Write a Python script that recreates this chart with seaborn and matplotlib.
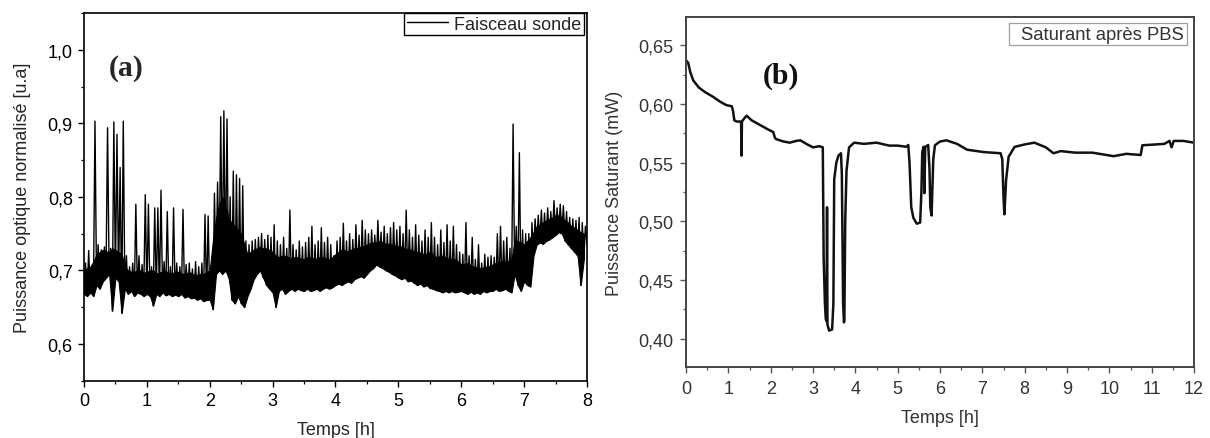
import numpy as np
import pandas as pd
import matplotlib
matplotlib.use("Agg")
import matplotlib.pyplot as plt
from matplotlib.ticker import MultipleLocator, FuncFormatter
import seaborn as sns

# ---------------- data: panel (a) ----------------
# low / high excursions of the noisy probe signal, every 0.05 h (lo at t, hi at t+0.025)
lo_a = [0.668, 0.665, 0.670, 0.665, 0.680, 0.675, 0.685, 0.690, 0.695, 0.645,
        0.690, 0.685, 0.642, 0.675, 0.668, 0.672, 0.665, 0.670, 0.668, 0.665,
        0.668, 0.665, 0.652, 0.668, 0.665, 0.670, 0.666, 0.668, 0.665, 0.667,
        0.665, 0.668, 0.663, 0.665, 0.662, 0.663, 0.660, 0.662, 0.658, 0.660,
        0.660, 0.647, 0.695, 0.700, 0.695, 0.700, 0.690, 0.660, 0.655, 0.665,
        0.655, 0.650, 0.665, 0.675, 0.688, 0.695, 0.700, 0.690, 0.680, 0.675,
        0.670, 0.650, 0.672, 0.675, 0.668, 0.672, 0.675, 0.672, 0.675, 0.673,
        0.672, 0.675, 0.672, 0.673, 0.675, 0.672, 0.675, 0.677, 0.675, 0.677,
        0.680, 0.682, 0.680, 0.683, 0.685, 0.683, 0.688, 0.690, 0.692, 0.690,
        0.695, 0.700, 0.703, 0.708, 0.705, 0.703, 0.700, 0.698, 0.695, 0.693,
        0.690, 0.688, 0.690, 0.685, 0.686, 0.683, 0.680, 0.682, 0.678, 0.680,
        0.676, 0.675, 0.673, 0.672, 0.670, 0.672, 0.670, 0.672, 0.670, 0.671,
        0.672, 0.670, 0.668, 0.671, 0.668, 0.670, 0.668, 0.672, 0.670, 0.672,
        0.672, 0.675, 0.672, 0.673, 0.675, 0.672, 0.670, 0.695, 0.680, 0.672,
        0.685, 0.680, 0.678, 0.720, 0.735, 0.738, 0.736, 0.740, 0.742, 0.745,
        0.748, 0.752, 0.750, 0.740, 0.735, 0.730, 0.725, 0.720, 0.680, 0.715]
hi_a = [0.710, 0.727, 0.705, 0.903, 0.735, 0.728, 0.732, 0.894, 0.730, 0.902,
        0.885, 0.840, 0.903, 0.720, 0.705, 0.710, 0.790, 0.720, 0.708, 0.803,
        0.790, 0.705, 0.785, 0.785, 0.809, 0.712, 0.780, 0.705, 0.785, 0.710,
        0.705, 0.783, 0.708, 0.710, 0.702, 0.712, 0.705, 0.710, 0.776, 0.774,
        0.700, 0.805, 0.820, 0.909, 0.917, 0.906, 0.800, 0.835, 0.830, 0.825,
        0.815, 0.740, 0.735, 0.740, 0.742, 0.745, 0.750, 0.742, 0.748, 0.745,
        0.762, 0.740, 0.735, 0.745, 0.730, 0.782, 0.735, 0.728, 0.740, 0.732,
        0.738, 0.745, 0.760, 0.735, 0.740, 0.758, 0.738, 0.745, 0.735, 0.720,
        0.740, 0.745, 0.764, 0.740, 0.750, 0.742, 0.762, 0.748, 0.768, 0.755,
        0.750, 0.755, 0.748, 0.768, 0.752, 0.760, 0.750, 0.758, 0.765, 0.755,
        0.760, 0.750, 0.782, 0.755, 0.745, 0.762, 0.748, 0.740, 0.755, 0.745,
        0.765, 0.745, 0.735, 0.755, 0.738, 0.762, 0.740, 0.760, 0.735, 0.725,
        0.722, 0.765, 0.720, 0.745, 0.715, 0.735, 0.710, 0.722, 0.718, 0.720,
        0.718, 0.750, 0.760, 0.740, 0.745, 0.730, 0.899, 0.760, 0.860, 0.755,
        0.750, 0.750, 0.765, 0.770, 0.775, 0.782, 0.778, 0.785, 0.780, 0.795,
        0.785, 0.790, 0.788, 0.780, 0.772, 0.770, 0.768, 0.772, 0.765, 0.760]
# top of the dense (solid-looking) core of the trace, same 0.05 h grid as lo_a
core_a = [0.700, 0.703, 0.705, 0.712, 0.722, 0.725, 0.728, 0.726, 0.725, 0.730,
          0.728, 0.725, 0.722, 0.705, 0.700, 0.698, 0.698, 0.700, 0.700, 0.697,
          0.698, 0.700, 0.700, 0.696, 0.697, 0.699, 0.699, 0.697, 0.696, 0.698,
          0.698, 0.696, 0.695, 0.697, 0.697, 0.694, 0.694, 0.695, 0.695, 0.698,
          0.700, 0.740, 0.770, 0.790, 0.800, 0.790, 0.770, 0.765, 0.760, 0.755,
          0.750, 0.735, 0.722, 0.725, 0.728, 0.730, 0.732, 0.730, 0.730, 0.728,
          0.725, 0.720, 0.718, 0.720, 0.720, 0.718, 0.716, 0.718, 0.718, 0.716,
          0.715, 0.718, 0.718, 0.716, 0.716, 0.718, 0.718, 0.716, 0.715, 0.718,
          0.722, 0.725, 0.728, 0.727, 0.726, 0.728, 0.730, 0.731, 0.732, 0.733,
          0.735, 0.737, 0.738, 0.739, 0.740, 0.738, 0.736, 0.736, 0.735, 0.734,
          0.733, 0.732, 0.730, 0.729, 0.728, 0.726, 0.725, 0.724, 0.722, 0.723,
          0.725, 0.722, 0.718, 0.719, 0.720, 0.718, 0.716, 0.716, 0.715, 0.712,
          0.708, 0.709, 0.710, 0.707, 0.705, 0.704, 0.703, 0.704, 0.705, 0.706,
          0.708, 0.710, 0.712, 0.712, 0.712, 0.713, 0.715, 0.740, 0.740, 0.738,
          0.735, 0.740, 0.745, 0.752, 0.760, 0.762, 0.765, 0.768, 0.770, 0.772,
          0.775, 0.775, 0.772, 0.768, 0.765, 0.760, 0.758, 0.755, 0.752, 0.750]
end_a = 0.735
label_a = "Faisceau sonde"

# ---------------- data: panel (b) ----------------
t_b = [0, 0.05, 0.10, 0.17, 0.30, 0.45, 0.64, 0.80, 0.95, 1.08, 1.11, 1.14, 1.20, 1.28,
       1.30, 1.31, 1.32, 1.36, 1.43, 1.55, 1.75, 1.95, 2.06, 2.10, 2.13, 2.30, 2.45, 2.60,
       2.70, 2.84, 3.00, 3.15, 3.23, 3.25, 3.28, 3.30, 3.32, 3.33, 3.34, 3.38, 3.45, 3.48,
       3.50, 3.55, 3.60, 3.66, 3.68, 3.71, 3.73, 3.74, 3.76, 3.79, 3.85, 3.97, 4.20, 4.50,
       4.80, 5.00, 5.20, 5.25, 5.28, 5.32, 5.37, 5.45, 5.53, 5.56, 5.58, 5.61, 5.63, 5.65,
       5.72, 5.75, 5.77, 5.80, 5.84, 5.88, 6.00, 6.15, 6.40, 6.64, 7.03, 7.43, 7.47, 7.50,
       7.52, 7.56, 7.62, 7.76, 8.00, 8.23, 8.50, 8.68, 8.85, 9.20, 9.60, 10.10, 10.40,
       10.74, 10.78, 11.10, 11.30, 11.42, 11.47, 11.52, 11.75, 12.00]
p_b = [0.637, 0.635, 0.627, 0.620, 0.614, 0.610, 0.606, 0.602, 0.599, 0.598, 0.594, 0.586,
       0.585, 0.585, 0.584, 0.556, 0.585, 0.587, 0.590, 0.586, 0.582, 0.578, 0.576, 0.571,
       0.570, 0.568, 0.567, 0.5685, 0.569, 0.566, 0.563, 0.564, 0.563, 0.470, 0.430, 0.417,
       0.415, 0.512, 0.412, 0.407, 0.408, 0.430, 0.536, 0.550, 0.556, 0.558, 0.540, 0.430,
       0.414, 0.416, 0.500, 0.543, 0.563, 0.567, 0.566, 0.567, 0.5645, 0.5645, 0.5635,
       0.565, 0.549, 0.512, 0.503, 0.498, 0.499, 0.526, 0.559, 0.5635, 0.524, 0.5635,
       0.565, 0.545, 0.512, 0.505, 0.553, 0.5648, 0.568, 0.569, 0.566, 0.561, 0.559, 0.558,
       0.553, 0.520, 0.506, 0.535, 0.555, 0.5634, 0.5655, 0.567, 0.563, 0.558, 0.5598,
       0.5585, 0.5585, 0.5555, 0.5575, 0.5565, 0.5648, 0.5655, 0.566, 0.5685, 0.563,
       0.5685, 0.5685, 0.567]
label_b = "Saturant après PBS"

# ---------------- build tables ----------------
step = 0.05
t_lo = np.arange(len(lo_a)) * step
t_hi = t_lo + step / 2
t_line = np.append(np.column_stack([t_lo, t_hi]).ravel(), 8.0)
p_line = np.append(np.column_stack([lo_a, hi_a]).ravel(), end_a)
df_a = pd.DataFrame({"t": t_line, "p": p_line})
df_core = pd.DataFrame({"t": t_lo, "lo": lo_a, "core": core_a})
df_b = pd.DataFrame({"t": t_b, "p": p_b})

# ---------------- style ----------------
sns.set_theme(style="ticks")
plt.rcParams["font.family"] = ["Liberation Sans", "DejaVu Sans"]
plt.rcParams["axes.unicode_minus"] = False

fig = plt.figure(figsize=(12.10, 4.39), dpi=100)
ax1 = fig.add_axes([0.0694, 0.1305, 0.4157, 0.8376])
ax2 = fig.add_axes([0.5670, 0.1617, 0.4198, 0.7973])

comma1 = FuncFormatter(lambda v, p: f"{v:.1f}".replace(".", ","))
comma2 = FuncFormatter(lambda v, p: f"{v:.2f}".replace(".", ","))

# ---- panel (a) ----
ax1.fill_between(df_core["t"], df_core["lo"], df_core["core"], color="black",
                 lw=0.8, edgecolor="black")
sns.lineplot(data=df_a, x="t", y="p", ax=ax1, color="black", lw=1.0,
             sort=False, estimator=None, label=label_a)
ax1.set_xlim(0, 8)
ax1.set_ylim(0.55, 1.05)
ax1.xaxis.set_major_locator(MultipleLocator(1))
ax1.xaxis.set_minor_locator(MultipleLocator(0.5))
ax1.yaxis.set_major_locator(MultipleLocator(0.1))
ax1.yaxis.set_minor_locator(MultipleLocator(0.05))
ax1.yaxis.set_major_formatter(comma1)
ax1.set_xlabel("Temps [h]", fontsize=13, labelpad=9)
ax1.set_ylabel("Puissance optique normalisé [u.a]", fontsize=13, labelpad=12)
for s in ax1.spines.values():
    s.set_visible(True)
    s.set_color("black")
    s.set_linewidth(1.2)
ax1.tick_params(which="major", direction="out", length=4, width=1.0,
                labelsize=13, pad=4, colors="black")
ax1.tick_params(which="minor", direction="out", length=2.5, width=0.9, colors="black")
leg1 = ax1.legend(loc="upper right", bbox_to_anchor=(0.995, 1.0), borderaxespad=0,
                  fontsize=13, frameon=True, fancybox=False, borderpad=0.15,
                  handlelength=2.3, handletextpad=0.35)
leg1.get_frame().set_edgecolor("black")
leg1.get_frame().set_linewidth(1.0)
leg1.get_frame().set_alpha(1)
for h in leg1.get_lines():
    h.set_linewidth(1.0)
ax1.text(0.05, 0.853, "(a)", transform=ax1.transAxes, ha="left", va="center",
         fontsize=21.5, fontweight="bold", family=["Liberation Serif", "DejaVu Serif"])

# ---- panel (b) ----
grey = "#333333"
sns.lineplot(data=df_b, x="t", y="p", ax=ax2, color="#111111", lw=1.8,
             sort=False, estimator=None, label=label_b)
ax2.set_xlim(0, 12)
ax2.set_ylim(0.376, 0.674)
ax2.xaxis.set_major_locator(MultipleLocator(1))
ax2.xaxis.set_minor_locator(MultipleLocator(0.5))
ax2.yaxis.set_major_locator(MultipleLocator(0.05))
ax2.yaxis.set_minor_locator(MultipleLocator(0.025))
ax2.yaxis.set_major_formatter(comma2)
ax2.set_xlabel("Temps [h]", fontsize=13, labelpad=9, color=grey)
ax2.set_ylabel("Puissance Saturant (mW)", fontsize=13, labelpad=11, color=grey)
for s in ax2.spines.values():
    s.set_visible(True)
    s.set_color("#444444")
    s.set_linewidth(1.4)
ax2.tick_params(which="major", direction="out", length=4, width=1.0,
                labelsize=13, pad=5, colors="#555555", labelcolor=grey)
ax2.tick_params(which="minor", direction="out", length=2.5, width=0.9, colors="#555555")
leg2 = ax2.legend(loc="upper right", bbox_to_anchor=(0.986, 0.983), borderaxespad=0,
                  fontsize=13.3, frameon=True, fancybox=False, borderpad=0.15,
                  handlelength=0, handletextpad=0.5, labelcolor=grey)
leg2.get_frame().set_edgecolor("#888888")
leg2.get_frame().set_linewidth(0.9)
for h in leg2.get_lines():
    h.set_visible(False)
ax2.text(0.151, 0.834, "(b)", transform=ax2.transAxes, ha="left", va="center",
         fontsize=21.5, fontweight="bold", color="#111111",
         family=["Liberation Serif", "DejaVu Serif"])

fig.savefig("out.png", dpi=100)
